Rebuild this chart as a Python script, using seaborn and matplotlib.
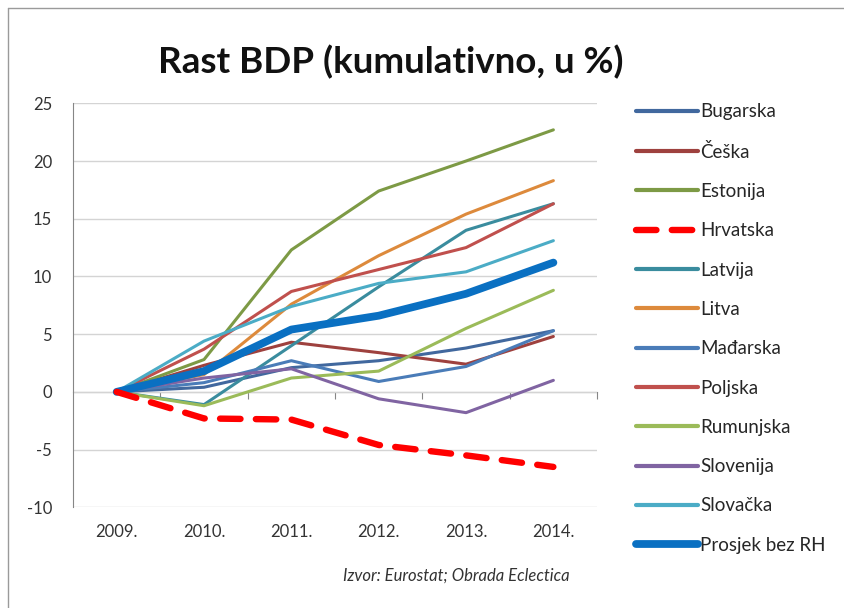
import pandas as pd
import matplotlib
matplotlib.use('Agg')
import matplotlib.pyplot as plt
from matplotlib.lines import Line2D
import seaborn as sns

# Podaci očitani s grafa (kumulativni rast BDP-a, %)
years = ['2009.', '2010.', '2011.', '2012.', '2013.', '2014.']
bugarska = [0, 0.4, 2.1, 2.7, 3.8, 5.3]
ceska = [0, 2.3, 4.3, 3.4, 2.4, 4.8]
estonija = [0, 2.8, 12.3, 17.4, 20.0, 22.7]
hrvatska = [0, -2.3, -2.4, -4.6, -5.5, -6.5]
latvija = [0, -1.1, 4.0, 9.1, 14.0, 16.3]
litva = [0, 1.5, 7.6, 11.8, 15.4, 18.3]
madarska = [0, 0.8, 2.7, 0.9, 2.2, 5.3]
poljska = [0, 3.7, 8.7, 10.6, 12.5, 16.3]
rumunjska = [0, -1.2, 1.2, 1.8, 5.5, 8.8]
slovenija = [0, 1.2, 2.0, -0.6, -1.8, 1.0]
slovacka = [0, 4.4, 7.4, 9.4, 10.4, 13.1]
prosjek = [0, 1.8, 5.4, 6.6, 8.5, 11.2]

series = {
    'Bugarska': bugarska,
    'Češka': ceska,
    'Estonija': estonija,
    'Hrvatska': hrvatska,
    'Latvija': latvija,
    'Litva': litva,
    'Mađarska': madarska,
    'Poljska': poljska,
    'Rumunjska': rumunjska,
    'Slovenija': slovenija,
    'Slovačka': slovacka,
    'Prosjek bez RH': prosjek,
}

colors = {
    'Bugarska': '#41689E',
    'Češka': '#9E413E',
    'Estonija': '#7D9A45',
    'Hrvatska': '#FF0000',
    'Latvija': '#3A8C9E',
    'Litva': '#DD8A3C',
    'Mađarska': '#4A7CB8',
    'Poljska': '#C0504D',
    'Rumunjska': '#9BBB59',
    'Slovenija': '#8064A2',
    'Slovačka': '#4BACC6',
    'Prosjek bez RH': '#0A70C2',
}

df = pd.DataFrame(series, index=years).reset_index().rename(columns={'index': 'godina'})
df['x'] = range(len(years))
long = df.melt(id_vars=['godina', 'x'], var_name='zemlja', value_name='rast')

sns.set_style('white')
plt.rcParams['font.family'] = ['Lato', 'DejaVu Sans']
plt.rcParams['axes.unicode_minus'] = False

fig = plt.figure(figsize=(8.44, 6.08), dpi=100)
ax = fig.add_axes([0.0865, 0.1656, 0.6209, 0.6645])

for name in series:
    d = long[long['zemlja'] == name]
    if name == 'Hrvatska':
        lw, ls = 4.6, (0, (3.2, 2.4))
    elif name == 'Prosjek bez RH':
        lw, ls = 5.6, '-'
    else:
        lw, ls = 2.2, '-'
    sns.lineplot(data=d, x='x', y='rast', ax=ax, color=colors[name], linewidth=lw,
                 linestyle=ls, label=name, solid_capstyle='round', dash_capstyle='round',
                 solid_joinstyle='round', zorder=3 if name != 'Hrvatska' else 4)

ax.set_xlim(-0.5, len(years) - 0.5)
ax.set_ylim(-10, 25)
ax.set_yticks(range(-10, 26, 5))
ax.set_xticks(range(len(years)))
ax.set_xticklabels(years)
ax.set_xlabel('')
ax.set_ylabel('')
ax.grid(axis='y', color='#D4D4D4', linewidth=1.0)
ax.set_axisbelow(True)
for s in ['top', 'right', 'bottom']:
    ax.spines[s].set_visible(False)
ax.spines['left'].set_color('#868686')
ax.tick_params(axis='y', length=5, color='#868686', labelsize=12, labelcolor='#333333', pad=10)
ax.tick_params(axis='x', length=0, labelsize=12, labelcolor='#333333', pad=12)

# os kategorija prelazi kroz nulu, s oznakama između kategorija
sec = ax.secondary_xaxis(10 / 35)
sec.set_xticks([i + 0.5 for i in range(len(years))])
sec.set_xticklabels([])
sec.tick_params(axis='x', length=5, color='#868686', direction='out')
sec.spines['bottom'].set_color('#868686')

leg = ax.legend(loc='upper left', bbox_to_anchor=(0.754, 0.830), bbox_transform=fig.transFigure,
                frameon=False, fontsize=13.5, handlelength=3.3, handletextpad=0.1,
                labelspacing=1.19, borderaxespad=0, borderpad=0)
for t in leg.get_texts():
    t.set_color('#262626')
for h in leg.get_lines():
    if h.get_linewidth() < 3:
        h.set_linewidth(3.0)

fig.text(0.463, 0.898, 'Rast BDP (kumulativno, u %)', ha='center', va='center',
         fontsize=26.5, fontweight='bold', color='#111111')
fig.text(0.541, 0.053, 'Izvor: Eurostat; Obrada Eclectica', ha='center', va='center',
         fontsize=12, style='italic', color='#333333')

# okvir grafikona
fig.add_artist(Line2D([0.009, 0.009], [0, 0.987], transform=fig.transFigure, color='#9A9A9A', lw=1))
fig.add_artist(Line2D([0.009, 1], [0.987, 0.987], transform=fig.transFigure, color='#9A9A9A', lw=1))

fig.savefig('out.png', dpi=100)
